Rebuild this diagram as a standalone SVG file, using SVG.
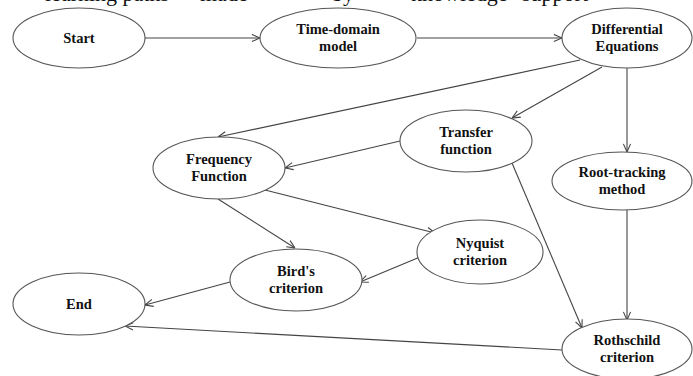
<svg xmlns="http://www.w3.org/2000/svg" width="693" height="376" viewBox="0 0 693 376">
<style>
.n ellipse{fill:#fff;stroke:#555;stroke-width:1.1}
.n text{font-family:"Liberation Serif","Times New Roman",serif;font-weight:bold;font-size:14.5px;fill:#111;text-anchor:middle}
.e line{stroke:#444;stroke-width:1.1;fill:none;marker-end:url(#ah)}
.top{font-family:"Liberation Serif","Times New Roman",serif;font-size:22px;fill:#111}
</style>
<defs>
<marker id="ah" viewBox="0 0 10 10" refX="10" refY="5" markerWidth="9" markerHeight="9" markerUnits="userSpaceOnUse" orient="auto">
<path d="M1,1 L10,5 L1,9" fill="none" stroke="#444" stroke-width="1.2"/>
</marker>
</defs>
<text class="top" y="1"><tspan x="45">learning paths</tspan><tspan x="200">made</tspan><tspan x="332">by</tspan><tspan x="411">knowledge</tspan><tspan x="522">support</tspan></text>
<g class="e" id="edges">
<line x1="145" y1="38" x2="260" y2="38"/>
<line x1="417" y1="38" x2="562" y2="38"/>
<line x1="580" y1="60" x2="218" y2="137"/>
<line x1="602" y1="67" x2="512" y2="118"/>
<line x1="627" y1="68" x2="627" y2="152"/>
<line x1="400" y1="141" x2="285" y2="168"/>
<line x1="218" y1="199" x2="295" y2="248"/>
<line x1="265" y1="190" x2="435" y2="233"/>
<line x1="420" y1="257" x2="360" y2="282"/>
<line x1="512" y1="163" x2="582" y2="328"/>
<line x1="627" y1="210" x2="627" y2="320"/>
<line x1="230" y1="282" x2="145" y2="305"/>
<line x1="562" y1="350" x2="125" y2="326"/>
</g>
<g class="n" id="start"><ellipse cx="79" cy="38" rx="66" ry="30"/><text x="79" y="43">Start</text></g>
<g class="n" id="timedomain"><ellipse cx="338" cy="38" rx="78" ry="30"/><text x="338" y="34">Time-domain</text><text x="338" y="51">model</text></g>
<g class="n" id="diffeq"><ellipse cx="627" cy="38" rx="65" ry="30"/><text x="627" y="34">Differential</text><text x="627" y="51">Equations</text></g>
<g class="n" id="transfer"><ellipse cx="466" cy="141" rx="66" ry="31"/><text x="466" y="137">Transfer</text><text x="466" y="154">function</text></g>
<g class="n" id="roottracking"><ellipse cx="622" cy="181" rx="70" ry="29"/><text x="622" y="177">Root-tracking</text><text x="622" y="194">method</text></g>
<g class="n" id="frequency"><ellipse cx="219" cy="168" rx="66" ry="31"/><text x="219" y="164">Frequency</text><text x="219" y="181">Function</text></g>
<g class="n" id="nyquist"><ellipse cx="480" cy="252" rx="63" ry="32"/><text x="480" y="248">Nyquist</text><text x="480" y="265">criterion</text></g>
<g class="n" id="birds"><ellipse cx="296" cy="280" rx="66" ry="31"/><text x="296" y="276">Bird's</text><text x="296" y="293">criterion</text></g>
<g class="n" id="end"><ellipse cx="79" cy="304" rx="66" ry="31"/><text x="79" y="309">End</text></g>
<g class="n" id="rothschild"><ellipse cx="627" cy="349" rx="65" ry="30"/><text x="627" y="345">Rothschild</text><text x="627" y="362">criterion</text></g>
</svg>
